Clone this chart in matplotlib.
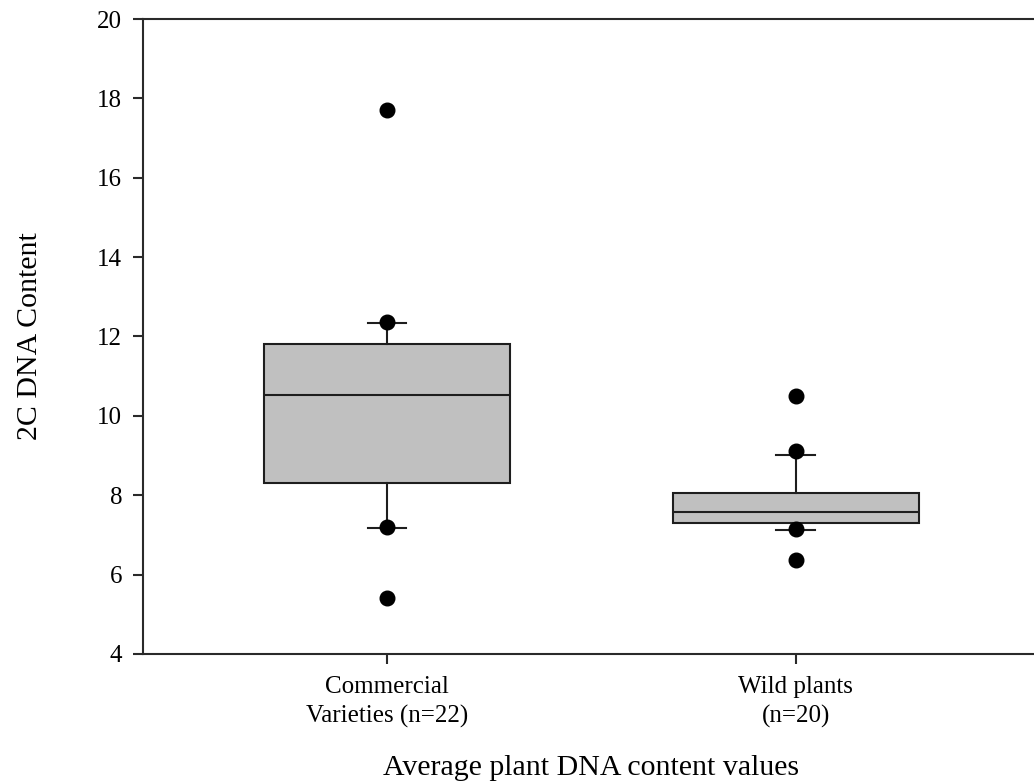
import matplotlib
matplotlib.use("Agg")
import matplotlib.pyplot as plt

plt.rcParams['font.family'] = ['Liberation Serif', 'DejaVu Serif']

# Group labels and box-plot summaries (2C DNA content)
categories = ["Commercial\nVarieties (n=22)", "Wild plants\n(n=20)"]
q1 = [8.31, 7.30]
medians = [10.53, 7.58]
q3 = [11.81, 8.06]
whisker_low = [7.18, 7.13]
whisker_high = [12.34, 9.02]
outliers = [[5.42, 7.19, 12.37, 17.72], [6.37, 7.15, 9.12, 10.50]]
y_ticks = [4, 6, 8, 10, 12, 14, 16, 18, 20]

fig = plt.figure(figsize=(10.34, 7.83), dpi=100)
ax = fig.add_axes([0.1383, 0.1648, 0.8675, 0.8109])

stats = []
for i in range(len(categories)):
    stats.append(dict(q1=q1[i], med=medians[i], q3=q3[i],
                      whislo=whisker_low[i], whishi=whisker_high[i],
                      fliers=outliers[i], label=categories[i]))

edge = "#1e1e1e"
ax.bxp(stats, positions=[1, 2], widths=0.6, capwidths=0.095,
       patch_artist=True, showfliers=True,
       boxprops=dict(facecolor="#c0c0c0", edgecolor=edge, linewidth=1.5),
       medianprops=dict(color=edge, linewidth=1.5),
       whiskerprops=dict(color=edge, linewidth=1.5),
       capprops=dict(color=edge, linewidth=1.5),
       flierprops=dict(marker='o', markerfacecolor='black',
                       markeredgecolor='black', markersize=10.5,
                       linestyle='none'))

ax.set_xlim(0.403, 2.597)
ax.set_ylim(4, 20)
ax.set_yticks(y_ticks)
ax.set_yticklabels([str(t) for t in y_ticks])

for s in ax.spines.values():
    s.set_linewidth(1.5)
    s.set_color("#2a2a2a")

ax.tick_params(axis='both', direction='out', length=7, width=1.5,
               color="#2a2a2a", labelsize=18, pad=8)
ax.tick_params(axis='x', pad=9)
for lbl in ax.get_xticklabels():
    lbl.set_linespacing(1.4)

ax.set_ylabel("2C DNA Content", fontsize=21.5, labelpad=39)
ax.set_xlabel("Average plant DNA content values", fontsize=21.5, labelpad=19)

fig.savefig("out.png", dpi=100)
